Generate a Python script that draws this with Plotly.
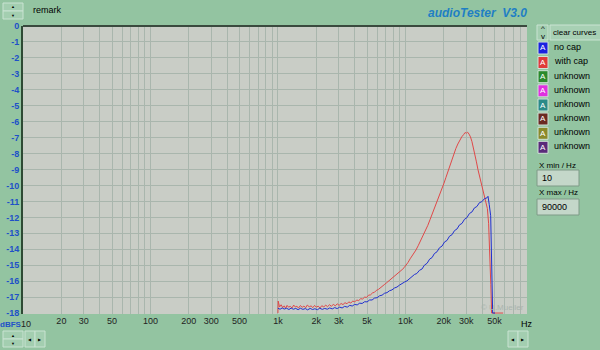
import plotly.graph_objects as go

# ---------------- data ----------------
red_freq = [1000, 1005, 1030, 1060, 1090, 1120, 1150, 1180, 1210, 1250, 1290, 1330, 1370, 1410,
            1450, 1500, 1550, 1600, 1650, 1700, 1760, 1820, 1880, 1940, 2000, 2070, 2140, 2210,
            2290, 2370, 2450, 2540, 2630, 2720, 2820, 2920, 3020, 3130, 3240, 3360, 3480, 3600,
            3730, 3870, 4010, 4150, 4300, 4460, 4620, 4790, 4960, 5140, 5330, 5520, 5720, 5920,
            6140, 6360, 6590, 6830, 7080, 7340, 7600, 7880, 8160, 8460, 8770, 9090, 9420, 9760,
            10100, 10500, 10900, 11300, 11700, 12100, 12600, 13000, 13500, 14000, 14500, 15000,
            15600, 16200, 16800, 17400, 18000, 18700, 19400, 20100, 20800, 21600, 22400, 23200,
            24000, 24900, 25800, 26700, 27700, 28700, 29400, 30100, 30800, 31600, 32400, 33300,
            34200, 35100, 36100, 37100, 38200, 39300, 40400, 41600, 42800, 44000, 45000, 46000,
            46800, 47500, 58500]
red_db = [-18.0, -17.25, -17.62, -17.48, -17.66, -17.55, -17.70, -17.52, -17.63, -17.58, -17.68,
          -17.50, -17.62, -17.57, -17.69, -17.53, -17.64, -17.56, -17.67, -17.50, -17.61, -17.55,
          -17.66, -17.52, -17.63, -17.57, -17.68, -17.54, -17.62, -17.50, -17.60, -17.48, -17.58,
          -17.45, -17.55, -17.42, -17.52, -17.40, -17.47, -17.35, -17.42, -17.30, -17.37, -17.25,
          -17.30, -17.18, -17.22, -17.10, -17.12, -17.00, -17.02, -16.88, -16.86, -16.74, -16.70,
          -16.58, -16.52, -16.40, -16.33, -16.22, -16.12, -16.02, -15.92, -15.83, -15.72, -15.62,
          -15.50, -15.40, -15.28, -15.16, -15.02, -14.82, -14.60, -14.42, -14.25, -14.05, -13.78,
          -13.55, -13.30, -13.05, -12.80, -12.50, -12.15, -11.82, -11.50, -11.20, -10.88, -10.55,
          -10.20, -9.85, -9.50, -9.10, -8.75, -8.38, -8.02, -7.68, -7.40, -7.15, -6.95, -6.80,
          -6.68, -6.72, -6.66, -6.78, -6.95, -7.25, -7.62, -8.05, -8.52, -9.00, -9.45, -9.88,
          -10.30, -10.72, -11.10, -11.45, -12.40, -14.20, -16.20, -18.0, -18.0]

blue_freq = [1000, 1040, 1080, 1120, 1170, 1220, 1270, 1320, 1380, 1440, 1500, 1570, 1640, 1710,
             1790, 1870, 1950, 2040, 2130, 2230, 2330, 2440, 2550, 2670, 2790, 2920, 3050, 3190,
             3340, 3500, 3660, 3830, 4000, 4190, 4380, 4580, 4790, 5010, 5240, 5480, 5730, 6000,
             6270, 6560, 6860, 7180, 7510, 7850, 8210, 8590, 8990, 9400, 9830, 10300, 10800,
             11300, 11800, 12300, 12900, 13500, 14100, 14800, 15500, 16200, 16900, 17700, 18500,
             19400, 20300, 21200, 22200, 23200, 24300, 25400, 26600, 27800, 29100, 30400, 31800,
             33300, 34800, 36400, 38100, 39800, 41700, 43600, 44500, 45500, 46700, 48400, 50500]
blue_db = [-17.70, -17.76, -17.68, -17.75, -17.70, -17.78, -17.69, -17.76, -17.71, -17.79, -17.70,
           -17.77, -17.72, -17.80, -17.71, -17.78, -17.73, -17.79, -17.70, -17.77, -17.71, -17.76,
           -17.68, -17.74, -17.66, -17.72, -17.63, -17.68, -17.58, -17.63, -17.52, -17.56, -17.46,
           -17.49, -17.38, -17.40, -17.29, -17.30, -17.18, -17.18, -17.06, -17.04, -16.92, -16.88,
           -16.76, -16.72, -16.60, -16.55, -16.43, -16.37, -16.25, -16.18, -16.06, -15.98, -15.84,
           -15.76, -15.58, -15.52, -15.32, -15.24, -15.00, -14.88, -14.62, -14.52, -14.27, -14.16,
           -13.91, -13.80, -13.54, -13.45, -13.18, -13.09, -12.83, -12.73, -12.47, -12.38, -12.12,
           -12.02, -11.76, -11.66, -11.41, -11.32, -11.08, -11.02, -10.83, -10.78, -10.68, -11.20,
           -11.90, -18.0, -18.0]

x_grid = [10, 20, 30, 40, 50, 60, 70, 80, 90,
          100, 200, 300, 400, 500, 600, 700, 800, 900,
          1000, 2000, 3000, 4000, 5000, 6000, 7000, 8000, 9000,
          10000, 20000, 30000, 40000, 50000, 60000, 70000, 80000, 90000]
x_labels = ["", "20", "30", "", "50", "", "", "", "",
            "100", "200", "300", "", "500", "", "", "", "",
            "1k", "2k", "3k", "", "5k", "", "", "", "",
            "10k", "20k", "30k", "", "50k", "", "", "", ""]
y_vals = [0, -1, -2, -3, -4, -5, -6, -7, -8, -9, -10, -11, -12, -13, -14, -15, -16, -17, -18]
y_labels = ["0", "-1", "-2", "-3", "-4", "-5", "-6", "-7", "-8", "-9", "-10", "-11", "-12",
            "-13", "-14", "-15", "-16", "-17", "-18"]

legend_names = ["no cap", "with cap", "unknown", "unknown", "unknown", "unknown", "unknown", "unknown"]
legend_colors = ["#1a22e0", "#e03a3a", "#2a8a2a", "#e030e0", "#2a8a88", "#6a2a22", "#8a8a2a", "#5a2a7a"]

# ---------------- geometry ----------------
W, H = 600, 350
L, R, T, B = 23, 527, 26, 314
GREEN = "#93c4a1"
BTN = "#a3ceb0"
FONT = "Liberation Sans"


def px(x):
    return (x - L) / (R - L)


def py(y):
    return (B - y) / (B - T)


fig = go.Figure()
fig.add_trace(go.Scatter(x=red_freq, y=red_db, mode="lines", line=dict(color="#e04848", width=1),
                         name="with cap", showlegend=False))
fig.add_trace(go.Scatter(x=blue_freq, y=blue_db, mode="lines", line=dict(color="#2030d0", width=1),
                         name="no cap", showlegend=False))

shapes = []
annotations = []


def rect(x0, y0, x1, y1, fill, line="#c9e3d2", lw=1):
    shapes.append(dict(type="rect", xref="paper", yref="paper", x0=px(x0), x1=px(x1),
                       y0=py(y1), y1=py(y0), fillcolor=fill, line=dict(color=line, width=lw),
                       layer="above"))


def text(x, y, s, size=9, color="black", xanchor="left", bold=False, italic=False):
    if bold:
        s = "<b>" + s + "</b>"
    if italic:
        s = "<i>" + s + "</i>"
    annotations.append(dict(xref="paper", yref="paper", x=px(x), y=py(y), text=s, showarrow=False,
                            xanchor=xanchor, yanchor="middle", borderpad=0,
                            font=dict(family=FONT, size=size, color=color)))


# top border of plot
shapes.append(dict(type="line", xref="paper", yref="paper", x0=0, x1=1, y0=1, y1=1,
                   line=dict(color="#3a4a3e", width=2), layer="above"))

# top-left spinner
rect(3, 3, 23, 11, BTN)
rect(3, 11, 23, 19, BTN)
text(13, 7, "▲", size=4, xanchor="center")
text(13, 15, "▼", size=4, xanchor="center")
text(32, 10, "remark", size=9)

# title
text(528, 13, "audioTester  V3.0", size=12, color="#1f7fc4", xanchor="right", bold=True, italic=True)

# bottom-left controls
rect(3, 331, 23, 339, BTN)
rect(3, 339, 23, 347, BTN)
text(13, 335, "▲", size=4, xanchor="center")
text(13, 343, "▼", size=4, xanchor="center")
rect(25, 331, 35, 347, BTN)
rect(35, 331, 45, 347, BTN)
text(30, 339, "◀", size=4, xanchor="center")
text(40, 339, "▶", size=4, xanchor="center")

# bottom-right controls
rect(508, 331, 518, 347, BTN)
rect(518, 331, 528, 347, BTN)
text(513, 339, "◀", size=4, xanchor="center")
text(523, 339, "▶", size=4, xanchor="center")

# axis unit labels ("dBFS" followed directly by the first frequency label)
text(-1, 324, "dBFS", size=8, color="#2050c8", bold=True)
text(20, 324, "10", size=9, color="#222222")
text(527, 324, "Hz", size=9, xanchor="center")

# watermark
text(525, 307, "© U.Mueller", size=8, color="#aab4ae", xanchor="right")

# right panel
rect(537, 25, 548, 40, BTN)
text(542.5, 29, "^", size=8, xanchor="center")
text(542.5, 36, "v", size=8, xanchor="center")
rect(550, 25, 601, 40, "#a8d0b4")
text(552, 32.5, "clear curves", size=8)

row_y = [48, 62.5, 76.7, 90.8, 105, 119, 133.3, 147.3]
for name, col, yy in zip(legend_names, legend_colors, row_y):
    rect(538, yy - 6, 548, yy + 6, col, line="#d0e4d8")
    text(543, yy, "A", size=8, color="white", xanchor="center")
    text(553, yy - 1, name, size=9)

text(538, 165, "X min / Hz", size=8)
rect(537, 170, 579, 186, "#c4d7c9", line="#7f9a87")
text(541, 178, "10", size=9)
text(538, 192, "X max / Hz", size=8)
rect(537, 199, 579, 215, "#c4d7c9", line="#7f9a87")
text(541, 207, "90000", size=9)

fig.update_layout(
    width=W, height=H,
    margin=dict(l=L, r=W - R, t=T, b=H - B, pad=0, autoexpand=False),
    paper_bgcolor=GREEN,
    plot_bgcolor="#c9cdc6",
    showlegend=False,
    shapes=shapes,
    annotations=annotations,
    font=dict(family=FONT, size=9, color="black"),
)
fig.update_xaxes(type="log", range=[1, 4.9542425], tickvals=x_grid, ticktext=x_labels,
                 showgrid=True, gridcolor="#a9b6ad", gridwidth=1, zeroline=False,
                 showline=False, ticks="", tickfont=dict(family=FONT, size=9, color="#222222"),
                 automargin=False, fixedrange=True)
fig.update_yaxes(range=[-18.06, 0], tickvals=y_vals, ticktext=y_labels,
                 showgrid=True, gridcolor="#a9b6ad", gridwidth=1, zeroline=False,
                 showline=True, linecolor="#2e4a34", linewidth=2, ticks="",
                 tickfont=dict(family=FONT, size=9, color="#2050c8", weight="bold"),
                 automargin=False, fixedrange=True)

fig.write_html("out.html")
